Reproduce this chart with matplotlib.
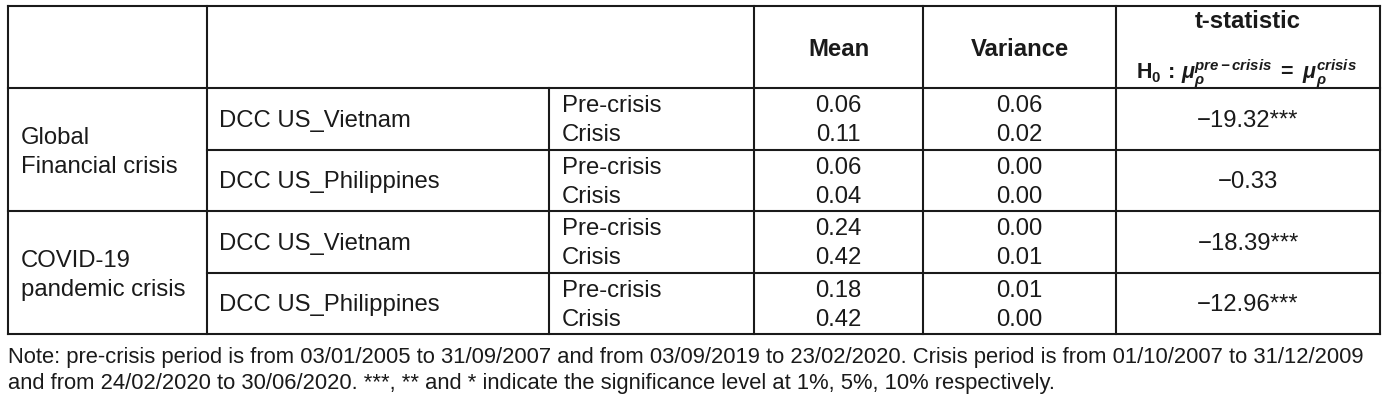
import matplotlib
matplotlib.use("Agg")
import matplotlib.pyplot as plt

plt.rcParams['font.family'] = ['Liberation Sans', 'DejaVu Sans']
plt.rcParams['mathtext.fontset'] = 'custom'
plt.rcParams['mathtext.rm'] = 'Liberation Sans'
plt.rcParams['mathtext.it'] = 'Liberation Sans:italic'
plt.rcParams['mathtext.bf'] = 'Liberation Sans:bold'
plt.rcParams['mathtext.bfit'] = 'Liberation Sans:bold:italic'

# ---- data ----
crises = ["Global\nFinancial crisis", "COVID-19\npandemic crisis"]
pairs = ["DCC US_Vietnam", "DCC US_Philippines"]
periods = ["Pre-crisis", "Crisis"]
means = [[0.06, 0.11], [0.06, 0.04], [0.24, 0.42], [0.18, 0.42]]
variances = [[0.06, 0.02], [0.00, 0.00], [0.00, 0.01], [0.01, 0.00]]
tstats = ["\u221219.32***", "\u22120.33", "\u221218.39***", "\u221212.96***"]
headers = ["Mean", "Variance", "t-statistic"]
note_lines = ["Note: pre-crisis period is from 03/01/2005 to 31/09/2007 and from 03/09/2019 to 23/02/2020. "
              "Crisis period is from 01/10/2007 to 31/12/2009",
              "and from 24/02/2020 to 30/06/2020. ***, ** and * indicate the significance level at 1%, 5%, 10% respectively."]

W, H = 1392, 410
fig = plt.figure(figsize=(W / 100, H / 100), dpi=100)
ax = fig.add_axes([0, 0, 1, 1])
ax.set_xlim(0, W)
ax.set_ylim(H, 0)
ax.axis('off')

lc = '#1a1a1a'
lw = 1.5
xL, xR = 8, 1380
yT, yB = 7, 335
yHead = 89
xc1, xc2, xc3, xc4, xc5 = 207, 549, 754, 923, 1116

def hline(y, x0, x1):
    ax.plot([x0, x1], [y, y], color=lc, lw=lw, solid_capstyle='projecting')

def vline(x, y0, y1):
    ax.plot([x, x], [y0, y1], color=lc, lw=lw, solid_capstyle='projecting')

hline(yT, xL, xR)
hline(yHead, xL, xR)
hline(yB, xL, xR)
hline(212, xL, xR)
hline(151, xc1, xR)
hline(274, xc1, xR)
for x in [xL, xc1, xc3, xc4, xc5, xR]:
    vline(x, yT, yB)
vline(xc2, yHead, yB)

fs = 17.2
tc = '#1a1a1a'
# header
ax.text((xc3 + xc4) / 2, 50, headers[0], ha='center', va='center', fontsize=fs, fontweight='bold', color=tc)
ax.text((xc4 + xc5) / 2, 50, headers[1], ha='center', va='center', fontsize=fs, fontweight='bold', color=tc)
ax.text((xc5 + xR) / 2, 22, headers[2], ha='center', va='center', fontsize=fs, fontweight='bold', color=tc)
ax.text((xc5 + xR) / 2 - 2, 74,
        r'$\mathbf{H}_{\mathbf{0}}\,\mathbf{:}\,\mathbfit{\mu}_{\mathbfit{\rho}}^{\mathbfit{pre-crisis}}\ \mathbf{=}\ \mathbfit{\mu}_{\mathbfit{\rho}}^{\mathbfit{crisis}}$',
        ha='center', va='center', fontsize=15.5, color=tc)

# body
block_top = [89, 151, 212, 274]
for i in range(4):
    y0 = block_top[i]
    y1 = block_top[i + 1] if i < 3 else yB
    ymid = (y0 + y1) / 2
    ya = y0 + 17
    yb = y0 + 46
    ax.text(xc1 + 12, ymid + 1, pairs[i % 2], ha='left', va='center', fontsize=fs, color=tc)
    ax.text(xc2 + 13, ya, periods[0], ha='left', va='center', fontsize=fs, color=tc)
    ax.text(xc2 + 13, yb, periods[1], ha='left', va='center', fontsize=fs, color=tc)
    ax.text((xc3 + xc4) / 2, ya, f"{means[i][0]:.2f}", ha='center', va='center', fontsize=fs, color=tc)
    ax.text((xc3 + xc4) / 2, yb, f"{means[i][1]:.2f}", ha='center', va='center', fontsize=fs, color=tc)
    ax.text((xc4 + xc5) / 2, ya, f"{variances[i][0]:.2f}", ha='center', va='center', fontsize=fs, color=tc)
    ax.text((xc4 + xc5) / 2, yb, f"{variances[i][1]:.2f}", ha='center', va='center', fontsize=fs, color=tc)
    ax.text((xc5 + xR) / 2, ymid + 1, tstats[i], ha='center', va='center', fontsize=fs, color=tc)

for j, (ya, yb) in enumerate([(89, 212), (212, 335)]):
    ax.text(xL + 13, (ya + yb) / 2 + 2, crises[j], ha='left', va='center', fontsize=fs,
            color=tc, linespacing=1.45)

ax.text(xL, 358, note_lines[0], ha='left', va='center', fontsize=15.8, color=tc)
ax.text(xL, 384, note_lines[1], ha='left', va='center', fontsize=15.8, color=tc)

fig.savefig("out.png", dpi=100)
